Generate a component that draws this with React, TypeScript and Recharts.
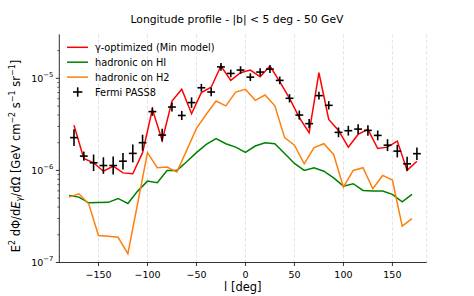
import React from 'react';
import { ComposedChart, Line, Scatter, ErrorBar, XAxis, YAxis, CartesianGrid } from 'recharts';

const FONT = '"DejaVu Sans", Verdana, sans-serif';

// Fermi PASS8 bins (deg), flux, relative y error, half bin width
const fermiL = [-175, -165, -155, -145, -135, -125, -115, -105, -95, -85, -75, -65, -55, -45, -35, -25, -15, -5,
  5, 15, 25, 35, 45, 55, 65, 75, 85, 95, 105, 115, 125, 135, 145, 155, 165, 175];
const fermiFlux = [2.27e-6, 1.43e-6, 1.21e-6, 1.13e-6, 1.13e-6, 1.26e-6, 1.53e-6, 2.0e-6, 4.35e-6, 2.42e-6, 4.88e-6, 3.95e-6,
  5.45e-6, 7.9e-6, 7.1e-6, 1.33e-5, 1.13e-5, 1.23e-5, 1.03e-5, 1.17e-5, 1.26e-5, 9.5e-6, 6.07e-6, 3.99e-6,
  3.22e-6, 6.49e-6, 5.09e-6, 2.59e-6, 2.7e-6, 2.81e-6, 2.72e-6, 2.4e-6, 1.88e-6, 1.62e-6, 1.18e-6, 1.52e-6];
const fermiRelErr = [0.23, 0.12, 0.23, 0.23, 0.25, 0.23, 0.25, 0.22, 0.11, 0.17, 0.12, 0.12,
  0.14, 0.1, 0.11, 0.1, 0.1, 0.1, 0.1, 0.1, 0.1, 0.1, 0.11, 0.12,
  0.12, 0.1, 0.11, 0.13, 0.13, 0.13, 0.14, 0.13, 0.16, 0.17, 0.19, 0.17];
const fermiHalfBin = 4;

// gamma-optimized model, same longitudes as the data
const gammaOpt = [3.1e-6, 1.35e-6, 1.21e-6, 9.8e-7, 1.11e-6, 9.4e-7, 9.2e-7, 1.56e-6, 4.6e-6, 2.12e-6, 5.67e-6, 7.6e-6,
  4.13e-6, 7.0e-6, 8.0e-6, 1.36e-5, 9.5e-6, 1.15e-5, 1.23e-5, 1.04e-5, 1.36e-5, 9.2e-6, 6.07e-6, 3.74e-6,
  2.57e-6, 1.15e-5, 3.58e-6, 2.72e-6, 1.79e-6, 2.46e-6, 2.79e-6, 1.73e-6, 1.79e-6, 2.08e-6, 1.0e-6, 1.26e-6];

// hadronic components
const hadL = [-180, -170, -160, -150, -140, -130, -120, -110, -100, -90, -80, -70, -60, -50, -40, -30, -20, -10,
  0, 10, 20, 30, 40, 50, 60, 70, 80, 90, 100, 110, 120, 130, 140, 150, 160, 170];
const hadHI = [5.35e-7, 5.13e-7, 4.45e-7, 4.48e-7, 4.5e-7, 4.96e-7, 4.37e-7, 5.96e-7, 7.65e-7, 7.35e-7, 1.0e-6, 1.0e-6,
  1.24e-6, 1.56e-6, 1.92e-6, 2.21e-6, 1.95e-6, 1.79e-6, 1.57e-6, 1.84e-6, 2.0e-6, 1.95e-6, 1.53e-6, 1.19e-6,
  1.0e-6, 1.07e-6, 9.8e-7, 8.3e-7, 6.75e-7, 7.17e-7, 6.06e-7, 5.96e-7, 5.96e-7, 5.49e-7, 4.57e-7, 5.49e-7];
const hadH2 = [5.13e-7, 5.58e-7, 4.34e-7, 1.96e-7, 1.93e-7, 1.88e-7, 1.25e-7, 4.4e-7, 1.56e-6, 1.07e-6, 1.09e-6, 9.6e-7,
  1.65e-6, 2.86e-6, 4.07e-6, 5.67e-6, 5.03e-6, 7.1e-6, 7.6e-6, 5.77e-6, 6.59e-6, 5.03e-6, 2.27e-6, 1.88e-6,
  1.18e-6, 1.77e-6, 1.95e-6, 1.49e-6, 6.59e-7, 1.0e-6, 1.07e-6, 6.32e-7, 8.82e-7, 7.85e-7, 2.48e-7, 3.0e-7];

const xTicks = [-150, -100, -50, 0, 50, 100, 150];
const yMajorTicks = [1e-7, 1e-6, 1e-5];
const yMinorTicks = [2e-7, 3e-7, 4e-7, 5e-7, 6e-7, 7e-7, 8e-7, 9e-7, 2e-6, 3e-6, 4e-6, 5e-6, 6e-6, 7e-6, 8e-6, 9e-6, 2e-5];
const xDomain = [-190, 185];
const yDomain = [1e-7, 3e-5];

const RED = '#ff0000';
const GREEN = '#008000';
const ORANGE = '#ff7f0e';

const legendItems = [
  { name: 'γ-optimized (Min model)', color: RED, kind: 'line' },
  { name: 'hadronic on HI', color: GREEN, kind: 'line' },
  { name: 'hadronic on H2', color: ORANGE, kind: 'line' },
  { name: 'Fermi PASS8', color: '#000', kind: 'cross' },
];

const fermiData = fermiL.map((l, i) => {
  const v = fermiFlux[i];
  const f = fermiRelErr[i];
  return { x: l, y: v, yerr: [v - v / (1 + f), v * f], xerr: fermiHalfBin };
});
const gammaData = fermiL.map((l, i) => ({ x: l, y: gammaOpt[i] }));
const hiData = hadL.map((l, i) => ({ x: l, y: hadHI[i] }));
const h2Data = hadL.map((l, i) => ({ x: l, y: hadH2[i] }));

const fmtX = (v: number) => (v < 0 ? '\u2212' + Math.abs(v) : String(v));

const YTick = (props: any) => {
  const { x, y, payload } = props;
  const v = payload.value;
  const major = yMajorTicks.includes(v);
  const exp = Math.round(Math.log10(v));
  return (
    <g>
      <line x1={x} x2={x - (major ? 3.5 : 2)} y1={y} y2={y} stroke="#000" strokeWidth={major ? 0.8 : 0.6} />
      {major && (
        <text x={x - 6} y={y + 3.5} textAnchor="end" fontSize={9.5} fontFamily={FONT} fill="#000">
          10<tspan dy={-4.6} fontSize={6.8}>{'\u2212' + Math.abs(exp)}</tspan>
        </text>
      )}
    </g>
  );
};

const NoDot = () => <g />;

export default function App() {
  return (
    <div style={{ position: 'absolute', left: 0, top: 0, width: 474, height: 296, background: '#fff' }}>
      <ComposedChart width={474} height={296} margin={{ top: 34.4, right: 47.3, bottom: 0, left: 0 }}>
        <CartesianGrid horizontal={false} stroke="#dcdcdc" strokeDasharray="3.5 2" strokeWidth={0.8} />
        <XAxis
          dataKey="x"
          type="number"
          domain={xDomain}
          ticks={xTicks}
          interval={0}
          allowDataOverflow
          height={33.5}
          stroke="#000"
          strokeWidth={0.8}
          tickSize={3.5}
          tickMargin={5}
          tickFormatter={fmtX}
          tick={{ fontSize: 9.5, fill: '#000', fontFamily: FONT }}
        />
        <XAxis xAxisId="top" orientation="top" type="number" domain={xDomain} allowDataOverflow height={0}
          tick={false} tickLine={false} stroke="#000" strokeWidth={0.8} />
        <YAxis
          type="number"
          scale="log"
          domain={yDomain}
          allowDataOverflow
          ticks={[...yMajorTicks, ...yMinorTicks]}
          interval={0}
          width={59.3}
          stroke="#000"
          strokeWidth={0.8}
          tickSize={0}
          tickMargin={0}
          tickLine={false}
          tick={<YTick />}
        />
        <YAxis yAxisId="right" orientation="right" type="number" scale="log" domain={yDomain} allowDataOverflow
          width={0} tick={false} tickLine={false} stroke="#000" strokeWidth={0.8} />
        <Line data={gammaData} dataKey="y" stroke={RED} strokeWidth={1.5} dot={false} isAnimationActive={false} />
        <Line data={hiData} dataKey="y" stroke={GREEN} strokeWidth={1.5} dot={false} isAnimationActive={false} />
        <Line data={h2Data} dataKey="y" stroke={ORANGE} strokeWidth={1.5} dot={false} isAnimationActive={false} />
        <Scatter data={fermiData} dataKey="y" shape={<NoDot />} isAnimationActive={false}>
          <ErrorBar dataKey="yerr" direction="y" width={0} stroke="#000" strokeWidth={1.6} isAnimationActive={false} />
          <ErrorBar dataKey="xerr" direction="x" width={0} stroke="#000" strokeWidth={1.6} isAnimationActive={false} />
        </Scatter>
      </ComposedChart>
      <svg width={474} height={296} style={{ position: 'absolute', left: 0, top: 0, pointerEvents: 'none' }}
        fontFamily={FONT}>
        <text x={237} y={22.7} textAnchor="middle" fontSize={10.8} fill="#000">
          Longitude profile - |b| &lt; 5 deg - 50 GeV
        </text>
        <text x={242.8} y={291} textAnchor="middle" fontSize={11.5} fill="#000">l [deg]</text>
        <text x={19.5} y={156} textAnchor="middle" fontSize={11.5} fill="#000" transform="rotate(-90 19.5 156)">
          E<tspan dy={-4.5} fontSize={8}>2</tspan>
          <tspan dy={4.5}>{' dΦ/d'}</tspan>
          <tspan fontStyle="italic">E</tspan>
          <tspan dy={2.5} fontSize={8} fontStyle="italic">γ</tspan>
          <tspan dy={-2.5}>{'/dΩ [GeV cm'}</tspan>
          <tspan dy={-4.5} fontSize={8}>{'\u22122'}</tspan>
          <tspan dy={4.5}>{' s'}</tspan>
          <tspan dy={-4.5} fontSize={8}>{'\u22121'}</tspan>
          <tspan dy={4.5}>{' sr'}</tspan>
          <tspan dy={-4.5} fontSize={8}>{'\u22121'}</tspan>
          <tspan dy={4.5}>]</tspan>
        </text>
        {legendItems.map((it, i) => {
          const y = 47.3 + i * 14.9;
          return (
            <g key={it.name}>
              {it.kind === 'line' ? (
                <line x1={67} x2={88} y1={y} y2={y} stroke={it.color} strokeWidth={1.5} />
              ) : (
                <g stroke={it.color} strokeWidth={1.6}>
                  <line x1={73} x2={82.4} y1={y} y2={y} />
                  <line x1={77.7} x2={77.7} y1={y - 4.7} y2={y + 4.7} />
                </g>
              )}
              <text x={95} y={y + 3.5} fontSize={9.8} fill="#000">{it.name}</text>
            </g>
          );
        })}
      </svg>
    </div>
  );
}
